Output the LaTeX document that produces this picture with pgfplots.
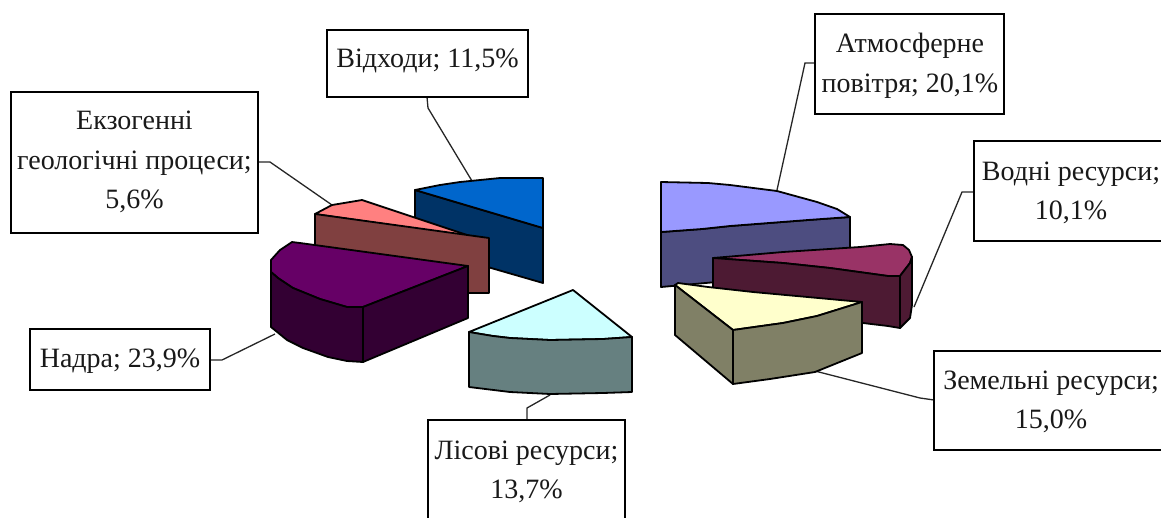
\documentclass[border=0pt]{standalone}
\usepackage{fontspec}
\setmainfont{Liberation Serif}
\usepackage{pgfplots}
\pgfplotsset{compat=1.18}
\definecolor{aTop}{HTML}{9999FF}\definecolor{aSide}{HTML}{4D4D80}
\definecolor{wTop}{HTML}{993366}\definecolor{wSide}{HTML}{4D1A33}
\definecolor{zTop}{HTML}{FFFFCC}\definecolor{zSide}{HTML}{808066}
\definecolor{lTop}{HTML}{CCFFFF}\definecolor{lSide}{HTML}{668080}
\definecolor{nTop}{HTML}{660066}\definecolor{nSide}{HTML}{330033}
\definecolor{eTop}{HTML}{FF8080}\definecolor{eSide}{HTML}{804040}
\definecolor{vTop}{HTML}{0066CC}\definecolor{vSide}{HTML}{003366}
\pgfplotsset{
  slice/.style={draw=black,line width=1.8pt,fill=#1,line join=round,mark=none,forget plot},
  leader/.style={draw=black!85,line width=1.3pt,mark=none,forget plot},
  box/.style={draw=black,line width=1.8pt,fill=white,mark=none,forget plot},
}
\tikzset{lab/.style={font=\fontsize{28}{39.5}\selectfont,align=center,text=black!90,inner sep=0pt}}
\begin{document}
\begin{tikzpicture}[x=1pt,y=1pt]
\path[use as bounding box] (0,0) rectangle (1161,517);
\clip (0,0) rectangle (1161,517);
\begin{axis}[at={(0,0)},anchor=south west,scale only axis,width=1161pt,height=517pt,
  xmin=0,xmax=1161,ymin=0,ymax=517,y dir=reverse,hide axis,clip=false]
% leaders
\addplot[leader] coordinates {(427,97)(428,108)(472,181)};
\addplot[leader] coordinates {(258,162)(270,162)(332,205)};
\addplot[leader] coordinates {(210,360)(222,360)(275,334)};
\addplot[leader] coordinates {(527,420)(527,408)(550,395)};
\addplot[leader] coordinates {(815,63)(805,63)(777,190)};
\addplot[leader] coordinates {(974,192)(962,192)(914,307)};
\addplot[leader] coordinates {(934,400)(920,398)(815,371)};
% Vidkhody
\addplot[slice=vSide] coordinates {(415,190)(543,228)(543,283)(415,246)} --cycle;
\addplot[slice=vTop] coordinates {(415,190)(440,185)(460,182)(500,178)(543,178)(543,228)} --cycle;
% Ekzohenni
\addplot[slice=eTop] coordinates {(315,214)(332,205)(362,200)(407,215)(473,237)} --cycle;
\addplot[slice=eSide] coordinates {(315,214)(489,238)(489,293)(315,293)} --cycle;
% Nadra
\addplot[slice=nTop] coordinates {(271,260)(280,250)(292,242)(300,243)(468,266)(363,307)(347,307)(320,299)(293,288)(278,278)(271,272)} --cycle;
\addplot[slice=nSide] coordinates {(271,272)(278,278)(293,288)(320,299)(347,307)(363,307)(363,362)(347,361)(328,357)(303,348)(287,340)(271,327)} --cycle;
\addplot[slice=nSide] coordinates {(363,307)(468,266)(468,318)(363,362)} --cycle;
% Lisovi
\addplot[slice=lTop] coordinates {(469,332)(573,290)(632,337)(603,339)(550,340)(510,338)(493,336)} --cycle;
\addplot[slice=lSide] coordinates {(469,332)(493,336)(510,338)(550,340)(603,339)(632,337)(632,392)(603,393)(550,394)(510,392)(469,387)} --cycle;
% Atmosferne
\addplot[slice=aSide] coordinates {(661,232)(702,229)(730,226)(808,220)(850,217)(850,270)(661,287)} --cycle;
\addplot[slice=aTop] coordinates {(661,182)(708,183)(730,185)(777,191)(817,202)(837,209)(850,217)(808,220)(730,226)(702,229)(661,232)} --cycle;
% Vodni
\addplot[slice=wTop] coordinates {(713,258)(725,257)(783,252)(860,247)(890,244)(903,245)(909,250)(912,257)(910,263)(900,276)(888,276)(830,268)(783,263)} --cycle;
\addplot[slice=wSide] coordinates {(713,258)(783,263)(830,268)(888,276)(900,276)(900,328)(888,326)(863,323)(713,323)} --cycle;
\addplot[slice=wSide] coordinates {(900,276)(910,263)(912,257)(912,305)(910,318)(900,328)} --cycle;
% Zemelni
\addplot[slice=zTop] coordinates {(675,285)(678,283)(708,287)(753,292)(862,302)(817,316)(783,323)(733,330)} --cycle;
\addplot[slice=zSide] coordinates {(675,285)(733,330)(733,384)(675,335)} --cycle;
\addplot[slice=zSide] coordinates {(733,330)(783,323)(817,316)(862,302)(862,353)(815,372)(770,379)(733,384)} --cycle;
% boxes
\addplot[box] coordinates {(327,30)(528,30)(528,97)(327,97)} --cycle;
\addplot[box] coordinates {(11,92)(258,92)(258,233)(11,233)} --cycle;
\addplot[box] coordinates {(30,329)(210,329)(210,390)(30,390)} --cycle;
\addplot[box] coordinates {(428,420)(625,420)(625,530)(428,530)} --cycle;
\addplot[box] coordinates {(815,14)(1004,14)(1004,114)(815,114)} --cycle;
\addplot[box] coordinates {(974,141)(1175,141)(1175,241)(974,241)} --cycle;
\addplot[box] coordinates {(934,351)(1175,351)(1175,450)(934,450)} --cycle;
% texts
\node[lab] at (axis cs:427.5,61) {Відходи; 11,5\%};
\node[lab] at (axis cs:134.5,162) {Екзогенні\\геологічні процеси;\\5,6\%};
\node[lab] at (axis cs:120,361) {Надра; 23,9\%};
\node[lab] at (axis cs:526.5,472) {Лісові ресурси;\\13,7\%};
\node[lab] at (axis cs:910,66) {Атмосферне\\повітря; 20,1\%};
\node[lab] at (axis cs:1071,193) {Водні ресурси;\\10,1\%};
\node[lab] at (axis cs:1051,402) {Земельні ресурси;\\15,0\%};
\end{axis}
\end{tikzpicture}
\end{document}
